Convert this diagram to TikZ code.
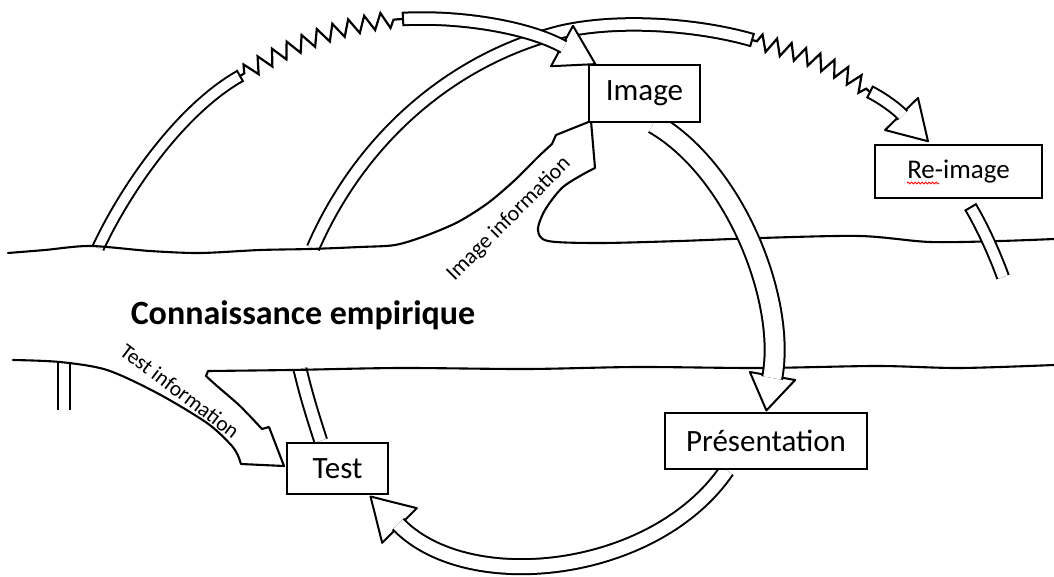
\documentclass[tikz,border=0pt]{standalone}
\usepackage{fontspec}
\setmainfont{Carlito}
\usetikzlibrary{calc,decorations.pathmorphing}
\pgfdeclarelayer{bg}
\pgfsetlayers{bg,main}
\tikzset{
  band/.style={draw=black, double=white, line width=2pt, double distance=#1},
  bankline/.style={draw=black, line width=2.1pt, line join=round, line cap=round},
  zz/.style={draw=black, line width=2.2pt, line join=miter, decorate,
    decoration={zigzag, segment length=#1, amplitude=8pt, pre length=5pt, post length=5pt}},
  box/.style={draw=black, fill=white, line width=2.6pt, inner sep=0pt},
  headstyle/.style={draw=black, fill=white, line width=2pt, line join=round},
  boxfont/.style={font=\fontsize{#1}{#1}\selectfont},
}
% arrow head: #1 base centre, #2 point behind it on the shaft tangent, #3 half width, #4 length
\newcommand{\myhead}[4]{\path[headstyle] ($(#1)!#3!90:(#2)$) -- ($(#1)!-#4!(#2)$) -- ($(#1)!#3!-90:(#2)$) -- cycle;}
% closed band end: #1 end point, #2 point on tangent, #3 half width
\newcommand{\mycap}[3]{\draw[line width=2pt] ($(#1)!#3!90:(#2)$) -- ($(#1)!#3!-90:(#2)$);}
\begin{document}
\begin{tikzpicture}[x=1pt,y=-1pt]
\useasboundingbox (0,0) rectangle (1054,577);
% boxes
\node[box, minimum width=111pt, minimum height=57pt, boxfont=31] (image) at (644.5,93.5) {Image};
\node[box, minimum width=167pt, minimum height=53pt, boxfont=27] (reimage) at (958.5,171.5) {Re-image};
\node[box, minimum width=202pt, minimum height=56pt, boxfont=31] (pres) at (766,441) {Présentation};
\node[box, minimum width=101pt, minimum height=51pt, boxfont=31] (test) at (337.5,468.5) {Test};
% labels
\node[font=\bfseries\fontsize{34}{40}\selectfont] (ce) at (303,315) {Connaissance empirique};
\node[boxfont=22, rotate=45] (ii) at (509,219) {Image information};
\node[boxfont=21.5, rotate=-37] (ti) at (180,391) {Test information};
\draw[red, line width=0.8pt, decorate, decoration={snake, segment length=3.5pt, amplitude=1pt}] (907,183) -- (939,183);

\coordinate (imgS) at ($(image.south west)+(66,0)$);
\coordinate (presS) at ($(pres.south west)+(63,0)$);
\coordinate (testT) at ($(test.north west)+(35,-1)$);
\coordinate (reimgS) at ($(reimage.south west)+(97,8)$);
\coordinate (la0) at (98,248);
\coordinate (la1) at (240,76);
\coordinate (ma0) at (313,248);
\coordinate (ma1) at (752,40);
\coordinate (ta0) at (403,19);
\coordinate (ra0) at (870,92);

\begin{pgfonlayer}{bg}
% stubs and arches below the banks
\draw[band=10pt] (64,362) -- (64,410);
\draw[band=9.5pt] (la0) .. controls (125,190) and (180,110) .. (la1);
\mycap{la1}{180,110}{6.8pt}
\draw[band=10.5pt] (ma0) .. controls (360,140) and (450,60) .. (560,32) .. controls (620,18) and (700,25) .. (ma1);
\mycap{ma1}{700,25}{7.2pt}
\draw[band=11pt] (300,369) .. controls (306,395) and (314,420) .. (testT);
% banks
\draw[bankline] plot[smooth, tension=0.5] coordinates {(8,253) (45,250) (90,246) (150,251) (200,253) (260,250) (310,249) (360,247) (395,245) (425,236) (458,222) (488,203) (515,180) (538,157) (552,144)}
  -- (556,135) -- (591,121) -- (595,168) -- (589,171)
  -- plot[smooth, tension=0.5] coordinates {(589,171) (563,187) (545,210) (538,230) (548,241) (600,243) (680,241) (760,238) (860,236) (930,242) (1000,241) (1054,239)};
\draw[bankline] plot[smooth, tension=0.5] coordinates {(13,360) (60,362) (107,370) (157,393) (207,423) (232,446) (239,458)}
  -- (241,464) -- (284,466) -- (269,427) -- (262,429)
  -- plot[smooth, tension=0.5] coordinates {(262,429) (240,406) (217,386) (206,376)}
  -- (208,371)
  -- plot[smooth, tension=0.5] coordinates {(208,371) (290,370) (400,368) (527,369) (637,367) (760,368) (877,366) (960,368) (1054,365)};
% zigzags
\draw[zz=16pt] (la1) .. controls (290,45) and (345,22) .. (ta0);
\draw[zz=15pt] (ma1) .. controls (790,50) and (840,65) .. (ra0);
% top arrow into Image
\myhead{562,46}{527,27}{23pt}{38pt}
\draw[band=10.5pt] (ta0) .. controls (460,16) and (527,27) .. (562,46) -- ($(562,46)!-2pt!(527,27)$);
\mycap{ta0}{460,16}{7.2pt}
% arrow to Re-image
\myhead{901.5,114}{894.5,106.8}{23pt}{38pt}
\draw[band=10pt] (ra0) .. controls (880,97) and (894.5,106.8) .. (901.5,114) -- ($(901.5,114)!-2pt!(894.5,106.8)$);
\mycap{ra0}{880,97}{7pt}
% Image -> Presentation
\myhead{772.5,376}{786,300}{23pt}{35pt}
\draw[band=18pt] (imgS) .. controls (735,170) and (786,300) .. (772.5,376) -- ($(772.5,376)!-2pt!(786,300)$);
% Presentation -> Test
\myhead{399.5,525.5}{470,596}{24.5pt}{41pt}
\draw[band=13pt] (presS) .. controls (655,575) and (470,596) .. (399.5,525.5) -- ($(399.5,525.5)!-2pt!(470,596)$);
% Re-image stub
\draw[band=10pt] (reimgS) .. controls (983,228) and (995,255) .. (1003,277);
\mycap{reimgS}{983,228}{7pt}
\end{pgfonlayer}
\end{tikzpicture}
\end{document}
